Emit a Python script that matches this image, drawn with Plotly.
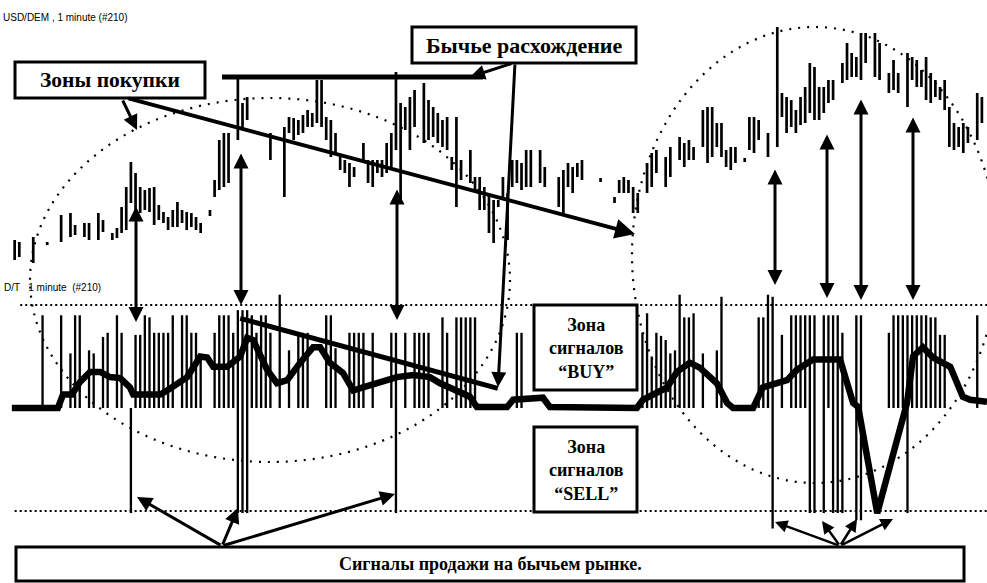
import plotly.graph_objects as go

W, H = 987, 583

# USD/DEM one-minute bars (#210), prices in pips (x 1e-4); None = no bar
bar_high = [
    None, 16760, 16758, None, None, 16763, None, None, 16758, None,
    None, 16785, None, 16787, 16775, None, 16777, 16777, None, 16787,
    16780, None, 16767, 16772, 16793, 16813, 16838, 16827, 16813, 16810,
    16812, 16813, 16795, 16788, 16783, 16790, 16798, 16790, 16788, 16787,
    16783, 16777, None, 16790, 16820, 16860, 16867, 16867, None, 16923,
    16897, 16903, None, None, None, None, 16867, None, None, 16873,
    16883, 16882, 16880, 16885, 16890, 16887, 16920, 16920, 16883, 16880,
    16867, 16843, 16840, 16837, 16833, None, 16857, 16840, 16840, 16840,
    16840, 16857, 16867, 16928, 16897, 16893, 16903, 16910, None, 16917,
    16900, 16893, 16887, 16880, 16883, 16843, 16883, 16840, None, 16850,
    16823, 16823, 16813, 16807, 16800, 16800, 16823, 16807, 16840, 16840,
    16837, 16850, 16850, None, 16850, 16833, None, None, 16823, 16830,
    16837, 16833, 16837, 16840, None, None, None, 16822, None, None,
    16803, 16820, 16823, 16820, 16813, 16807, None, 16837, 16847, 16850,
    None, 16843, 16853, None, 16863, 16857, 16860, 16853, None, 16890,
    16893, 16893, 16877, 16877, 16850, 16853, 16853, None, 16842, 16883,
    16883, 16880, None, 16867, None, 16973, 16907, 16903, 16900, 16890,
    16903, 16913, 16937, 16933, 16913, 16913, 16920, 16920, None, 16937,
    16957, 16947, 16943, 16967, 16967, None, 16967, 16957, None, 16927,
    16940, 16927, None, 16947, 16943, 16940, 16930, 16943, 16927, 16920,
    16913, 16920, 16893, 16877, 16873, 16877, 16873, None, 16907, 16903,
]
bar_low = [
    None, 16740, 16743, None, None, 16737, None, None, 16755, None,
    None, 16758, None, 16763, 16765, None, 16763, 16760, None, 16760,
    16768, None, 16760, 16762, 16767, 16770, 16797, 16790, 16787, 16790,
    16788, 16775, 16780, 16777, 16770, 16773, 16773, 16777, 16770, 16773,
    16770, 16767, None, 16784, 16803, 16810, 16813, 16817, None, 16860,
    16870, 16880, None, None, None, None, 16840, None, None, 16803,
    16867, 16860, 16865, 16867, 16873, 16873, 16877, 16873, 16860, 16843,
    16847, 16830, 16827, 16813, 16823, None, 16840, 16817, 16813, 16827,
    16823, 16827, 16833, 16850, 16800, 16870, 16850, 16873, None, 16857,
    16860, 16863, 16857, 16853, 16850, 16830, 16793, 16820, None, 16817,
    16810, 16790, 16790, 16767, 16757, 16793, 16800, 16760, 16813, 16817,
    16810, 16813, 16813, None, 16817, 16813, None, None, 16793, 16787,
    16813, 16807, 16823, 16820, None, None, None, 16818, None, None,
    16797, 16807, 16807, 16807, 16787, 16787, None, 16807, 16813, 16827,
    None, 16813, 16823, None, 16840, 16833, 16840, 16840, None, 16853,
    16837, 16843, 16853, 16843, 16833, 16830, 16837, None, 16838, 16850,
    16847, 16860, None, 16843, None, 16853, 16883, 16867, 16873, 16867,
    16875, 16877, 16887, 16880, 16880, 16887, 16897, 16900, None, 16917,
    16920, 16923, 16923, 16920, 16937, None, 16923, 16920, None, 16907,
    16910, 16907, None, 16893, 16920, 16913, 16913, 16900, 16897, 16903,
    16900, 16890, 16853, 16850, 16853, 16847, 16857, None, 16860, 16877,
]

# D/T oscillator: signal spikes (bar number, top, bottom)
spike_idx = [7, 11, 13, 14, 15, 17, 18, 20, 21, 23, 24, 26, 27, 28, 29, 30, 31, 32, 33, 34,
             35, 37, 38, 39, 40, 41, 44, 45, 46, 47, 48, 49, 50, 51, 52, 53, 54, 55, 56, 58,
             60, 62, 63, 64, 68, 69, 70, 73, 74, 75, 76, 78, 82, 83, 85, 87, 88, 89, 90, 93,
             94, 96, 97, 98, 99, 100, 109, 110, 136, 137, 138, 139, 140, 141, 142, 143, 144, 145, 146, 147,
             149, 152, 153, 161, 162, 163, 164, 166, 168, 169, 170, 171, 172, 173, 175, 176, 177, 178, 179, 182,
             183, 189, 190, 191, 192, 193, 194, 195, 196, 197, 198, 199, 200, 201, 208]
spike_top = [90, 90, 53, 90, 90, 56, 53, 69, 73, 90, 73, 0, 71, 71, 90, 88, 73, 73, 73, 73,
             90, 90, 90, 73, 73, 50, 73, 90, 90, 90, 73, 95, 95, 95, 90, 73, 90, 90, 73, 110,
             56, 73, 73, 73, 90, 90, 58, 73, 73, 73, 73, 73, 73, 73, 73, 73, 73, 73, 73, 88,
             73, 88, 88, 88, 88, 88, 73, 73, 73, 92, 50, 73, 70, 66, 53, 56, 110, 88, 88, 92,
             53, 56, 108, 88, 88, 110, 108, 71, 90, 90, 90, 90, 90, 90, 90, 90, 90, 90, 73, 90,
             90, 73, 90, 90, 90, 90, 90, 90, 90, 90, 88, 88, 71, 71, 90]
spike_low = [0, 0, 0, 0, 0, 0, 0, 0, 0, 0, 0, -102, 0, 0, 0, 0, 0, 0, 0, 0,
             0, 0, 0, 0, 0, 0, 0, 0, 0, 0, 0, -102, -102, -102, 0, 0, 0, 0, 0, 0,
             0, 0, 0, 0, 0, 0, 0, 0, 0, 0, 0, 0, 0, -102, 0, 0, 0, 0, 0, 0,
             0, 0, 0, 0, 0, 0, 0, 0, 0, 0, 0, 0, 0, 0, 0, 0, 0, 0, 0, 0,
             0, 0, 0, 0, 0, 0, -117, 0, 0, 0, 0, 0, -102, -102, -102, 0, -102, -102, -102, -109,
             -109, 0, 0, 0, 0, -102, 0, 0, 0, 0, 0, 0, 0, 0, 0]

# D/T smoothed line
osc_x = [0.4, 10.3, 11.4, 13.3, 15, 17.2, 19.4, 21.5, 23.7, 25.8, 26.5, 32.3, 33.8, 38.1, 40.9,
         42.4, 43.7, 46.7, 49.5, 51, 52.3, 55.3, 57.4, 59.6, 62.4, 65.2, 66.7, 68.8, 71.6, 73.8,
         75.9, 81.7, 83.2, 86.7, 90.3, 92.5, 96.1, 98.9, 100.4, 106.9, 108.2, 114.6, 116.1, 134.8,
         136.1, 137.6, 141.3, 143.4, 146.2, 148.4, 152, 154.2, 155.5, 159.8, 161.9, 167.1, 169.2,
         172.7, 178.5, 181.3, 182.4, 186.5, 192.9, 194.2, 196.3, 198.5, 202.2, 204.9, 206.5, 210.1]
osc_v = [0, 0, 13, 13, 25, 35, 35, 30, 29, 20, 13, 13, 17, 30, 50,
         49, 40, 40, 50, 68, 66, 37, 24, 27, 44, 59, 59, 44, 34, 17,
         20, 27, 30, 32, 30, 24, 17, 11, 1, 1, 8, 10, 1, 0,
         8, 11, 20, 35, 44, 39, 24, 5, 0, 0, 20, 27, 37,
         47, 47, 5, 1, -102, 5, 50, 59, 49, 40, 11, 8, 6]

signal_levels = [100, -100]

minutes = list(range(len(bar_high)))


def px(x):
    return x / W


def py(y):
    return 1 - y / H


fig = go.Figure()

# price bars
bx = [m for m, h in zip(minutes, bar_high) if h is not None]
bb = [l / 1e4 for h, l in zip(bar_high, bar_low) if h is not None]
bh = [(h - l) / 1e4 for h, l in zip(bar_high, bar_low) if h is not None]
fig.add_bar(x=bx, base=bb, y=bh, width=0.58, yaxis="y",
            marker=dict(color="black", line=dict(width=0)))

# oscillator spikes
fig.add_bar(x=spike_idx, base=spike_low, y=[t - b for t, b in zip(spike_top, spike_low)],
            width=0.5, yaxis="y2", marker=dict(color="black", line=dict(width=0)))

# signal levels
fig.add_scatter(x=[2.2, 210.1], y=[signal_levels[0]] * 2, yaxis="y2", mode="lines",
                line=dict(color="black", width=2, dash="2px,3px"))
fig.add_scatter(x=[1.0, 210.1], y=[signal_levels[1]] * 2, yaxis="y2", mode="lines",
                line=dict(color="black", width=2, dash="2px,3px"))

# smoothed oscillator
fig.add_scatter(x=osc_x, y=osc_v, yaxis="y2", mode="lines",
                line=dict(color="black", width=6.5))

shapes = []
# dotted zones
for x0, y0, x1, y1 in [(30, 98, 510, 462), (632, 27, 998, 483)]:
    shapes.append(dict(type="circle", xref="paper", yref="paper",
                       x0=px(x0), x1=px(x1), y0=py(y1), y1=py(y0),
                       line=dict(color="black", width=2.2, dash="2px,7px")))
# divergence lines
shapes.append(dict(type="line", xref="x", yref="y", x0=45.6, x1=101.7,
                   y0=1.6923, y1=1.6923, line=dict(color="black", width=5)))
shapes.append(dict(type="line", xref="x", yref="y2", x0=49.5, x1=104.9,
                   y0=87, y1=19, line=dict(color="black", width=5)))
# label boxes
for x0, y0, x1, y1 in [(15, 62, 205, 98), (412, 27, 636, 63), (534, 305, 637, 390),
                       (534, 427, 637, 512), (16, 547, 964, 581)]:
    shapes.append(dict(type="rect", xref="paper", yref="paper",
                       x0=px(x0), x1=px(x1), y0=py(y1), y1=py(y0),
                       fillcolor="white", line=dict(color="black", width=3)))

ann = []


def arrow(hx, hy, tx, ty, width=3, both=False, size=1.0):
    d = dict(x=px(hx), y=py(hy), xref="paper", yref="paper", ax=tx - hx, ay=ty - hy,
             text="", showarrow=True, arrowhead=2, arrowsize=size, arrowwidth=width,
             arrowcolor="black", standoff=0)
    if both:
        d.update(arrowside="end+start", startarrowhead=2, startarrowsize=size, startstandoff=0)
    return d


ann.append(arrow(137, 130, 122, 99))
ann.append(arrow(635, 234, 127, 98, width=4))
ann.append(arrow(470, 77, 513, 63))
ann.append(arrow(498, 387, 515, 63))
for x, yt, yb in [(136, 205, 322), (241, 152, 305), (397, 188, 320), (775, 168, 285),
                  (827, 133, 298), (861, 98, 300), (913, 116, 300)]:
    ann.append(arrow(x, yb, x, yt, both=True))
for hx, hy in [(137, 497), (238, 508), (395, 494)]:
    ann.append(arrow(hx, hy, 222, 546))
for hx, hy in [(775, 522), (822, 521), (857, 519), (893, 519)]:
    ann.append(arrow(hx, hy, 840, 546, width=2.5))

serif = "Liberation Serif"


def label(x, y, text, size, family=serif, anchor="center"):
    return dict(x=px(x), y=py(y), xref="paper", yref="paper", text=text, showarrow=False,
                xanchor=anchor, yanchor="middle", font=dict(family=family, size=size, color="black"))


ann.append(label(110, 80, "<b>Зоны покупки</b>", 21.5))
ann.append(label(524, 45, "<b>Бычье расхождение</b>", 22))
ann.append(label(586, 348, "<b>Зона<br>сигналов<br>“BUY”</b>", 18))
ann.append(label(586, 470, "<b>Зона<br>сигналов<br>“SELL”</b>", 18))
ann.append(label(490, 564, "<b>Сигналы продажи на бычьем рынке.</b>", 18))
ann.append(label(1, 18, "USD/DEM , 1 minute (#210)", 10, family="Liberation Sans", anchor="left"))
ann.append(label(2, 288, "D/T \u00a0 1 minute \u00a0(#210)", 10, family="Liberation Sans", anchor="left"))

fig.update_layout(
    width=W, height=H, autosize=False,
    margin=dict(l=0, r=0, t=0, b=0),
    paper_bgcolor="white", plot_bgcolor="white",
    showlegend=False, barmode="overlay",
    xaxis=dict(range=[-2.15, 210.1], visible=False, showgrid=False, zeroline=False),
    yaxis=dict(range=[1.6417, 1.7000], visible=False, showgrid=False, zeroline=False),
    yaxis2=dict(range=[-169.9, 396.1], overlaying="y", visible=False,
                showgrid=False, zeroline=False),
    shapes=shapes, annotations=ann,
)

fig.write_html("out.html")
